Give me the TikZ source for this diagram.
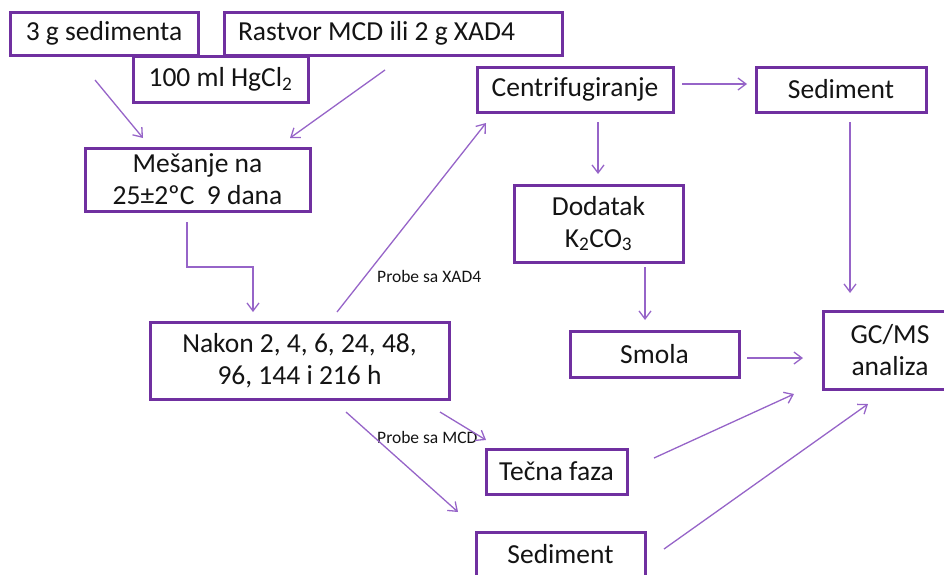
\documentclass[tikz,border=0pt]{standalone}
\usepackage{fontspec}
\setmainfont{Carlito}
\usetikzlibrary{arrows.meta}
\definecolor{boxline}{RGB}{112,48,160}
\definecolor{flow}{RGB}{150,100,200}
\definecolor{ink}{RGB}{20,20,20}
\begin{document}
\begin{tikzpicture}[x=1pt,y=-1pt,
  stepbox/.style={draw=boxline, line width=3pt, fill=white, inner sep=0pt,
    align=center, text=ink, font=\fontsize{27.5}{32}\selectfont},
  flowarrow/.style={draw=flow, line width=1.3pt,
    -{Straight Barb[length=8pt,width=12pt]}},
  note/.style={inner sep=0pt, text=ink, font=\fontsize{17.5}{20}\selectfont}]
\useasboundingbox (0,0) rectangle (944,574);
\clip (0,0) rectangle (944,574);

% inputs
\node[stepbox, minimum width=188pt, minimum height=43pt] (sed) at (104,33.5) {3 g sedimenta};
\node[stepbox, minimum width=338pt, minimum height=43pt, text width=310pt, align=flush left] (rastvor) at (393,33.5) {Rastvor MCD ili 2 g XAD4};
\node[stepbox, minimum width=175pt, minimum height=46pt] (hgcl) at (220.5,79) {100 ml HgCl\textsubscript{2}};

% mixing and sampling
\node[stepbox, minimum width=225pt, minimum height=63pt] (mix) at (197.5,179.5) {Mešanje na\\25±2ºC~~9 dana};
\node[stepbox, minimum width=299pt, minimum height=77pt] (nakon) at (299.5,360.5) {Nakon 2, 4, 6, 24, 48,\\96, 144 i 216 h};

% XAD4 branch
\node[stepbox, minimum width=196pt, minimum height=45pt] (centrif) at (575,89.5) {Centrifugiranje};
\node[stepbox, minimum width=170pt, minimum height=45pt] (sedA) at (841,89.5) {Sediment};
\node[stepbox, minimum width=169pt, minimum height=77pt] (dod) at (598.5,223.5) {Dodatak\\K\textsubscript{2}CO\textsubscript{3}};
\node[stepbox, minimum width=169pt, minimum height=46pt] (smola) at (654.5,354) {Smola};

% MCD branch
\node[stepbox, minimum width=141pt, minimum height=45pt] (tecna) at (556.5,471.5) {Tečna faza};
\node[stepbox, minimum width=169pt, minimum height=45pt] (sedB) at (560.5,554.5) {Sediment};

% analysis
\node[stepbox, minimum width=134pt, minimum height=78pt] (gcms) at (890,350) {GC/MS\\analiza};

% labels
\node[note, anchor=base west] (lxad) at (377,282) {Probe sa XAD4};
\node[note, anchor=base west] (lmcd) at (377,443) {Probe sa MCD};

% arrow end points
\coordinate (p1s) at (95,80);    \coordinate (p1e) at (143,138);
\coordinate (p2s) at (385,70);   \coordinate (p2e) at (290,138);
\coordinate (p3s) at (187,222);  \coordinate (p3e) at (253,312);
\coordinate (p4s) at (337,312);  \coordinate (p4e) at (486,123);
\coordinate (p5s) at (682,84);   \coordinate (p5e) at (747,84);
\coordinate (p6s) at (598,122);  \coordinate (p6e) at (598,174);
\coordinate (p7s) at (645,267);  \coordinate (p7e) at (645,320);
\coordinate (p8s) at (850,122);  \coordinate (p8e) at (850,293);
\coordinate (p9s) at (747,358);  \coordinate (p9e) at (803,358);
\coordinate (p10s) at (654,458); \coordinate (p10e) at (794,394);
\coordinate (p11s) at (664,549); \coordinate (p11e) at (868,404);
\coordinate (p12s) at (440,412); \coordinate (p12e) at (486,440);
\coordinate (p13s) at (346,412); \coordinate (p13e) at (458,512);

% connectors
\draw[flowarrow] (p1s) -- (p1e);
\draw[flowarrow] (p2s) -- (p2e);
\draw[flowarrow] (p3s) -- (p3s |- 0,267) -- (p3e |- 0,267) -- (p3e);
\draw[flowarrow] (p4s) -- (p4e);
\draw[flowarrow] (p5s) -- (p5e);
\draw[flowarrow] (p6s) -- (p6e);
\draw[flowarrow] (p7s) -- (p7e);
\draw[flowarrow] (p8s) -- (p8e);
\draw[flowarrow] (p9s) -- (p9e);
\draw[flowarrow] (p10s) -- (p10e);
\draw[flowarrow] (p11s) -- (p11e);
\draw[flowarrow] (p12s) -- (p12e);
\draw[flowarrow] (p13s) -- (p13e);
\end{tikzpicture}
\end{document}
